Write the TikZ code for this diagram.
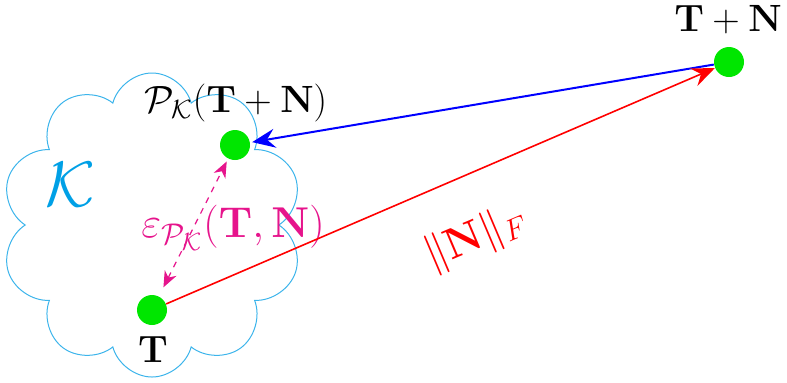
\documentclass[tikz,border=0pt]{standalone}
\usepackage{amsmath,amssymb}
\usetikzlibrary{shapes.symbols,arrows.meta}
\definecolor{dotgreen}{RGB}{0,230,0}
\definecolor{cloudcol}{RGB}{60,180,235}
\definecolor{kcol}{RGB}{0,160,230}
\definecolor{epscol}{RGB}{230,20,140}
\begin{document}
\begin{tikzpicture}[x=0.5pt,y=-0.5pt,
  dot/.style={circle,fill=dotgreen,minimum size=15pt,inner sep=0pt},
  lbl/.style={inner sep=0pt,font=\LARGE,scale=1.1},
  biglbl/.style={inner sep=0pt,font=\huge,scale=1.04},
  bigtip/.style={-{Stealth[length=11.5pt,width=9.5pt,inset=4pt]}},
  smalltip/.style={{Stealth[length=8pt,width=6.5pt,inset=2.5pt]}-{Stealth[length=8pt,width=6.5pt,inset=2.5pt]}}]
\useasboundingbox (0,0) rectangle (787,382);
\node[cloud,cloud puffs=10,aspect=1,draw=cloudcol,line width=0.5pt,
  minimum width=151pt,minimum height=152pt] (K) at (152,225) {};
\node[dot] (t) at (152,310) {};
\node[dot] (p) at (235,145) {};
\node[dot] (tn) at (729,62) {};
\node[lbl] (tl) at (153,349) {$\mathbf{T}$};
\node[lbl] (tnl) at (728,20) {$\mathbf{T}+\mathbf{N}$};
\node[lbl] (pl) at (236,103) {$\mathcal{P}_{\mathcal{K}}(\mathbf{T}+\mathbf{N})$};
\node[inner sep=0pt,text=kcol,font=\Huge,scale=1.29] (kl) at (70,185) {$\mathcal{K}$};
\node[biglbl,text=epscol] (el) at (233,228) {$\varepsilon_{\mathcal{P}_{\mathcal{K}}}(\mathbf{T},\mathbf{N})$};
\node[biglbl,text=red,rotate=23] (nl) at (476,238) {$\|\mathbf{N}\|_F$};
\draw[blue,line width=1pt,bigtip,shorten >=1pt] (tn) -- (p);
\draw[red,line width=0.8pt,bigtip] (t) -- (tn);
\draw[epscol,dashed,line width=0.6pt,smalltip,shorten <=5pt,shorten >=1.5pt] (t) -- (p);
\end{tikzpicture}
\end{document}
